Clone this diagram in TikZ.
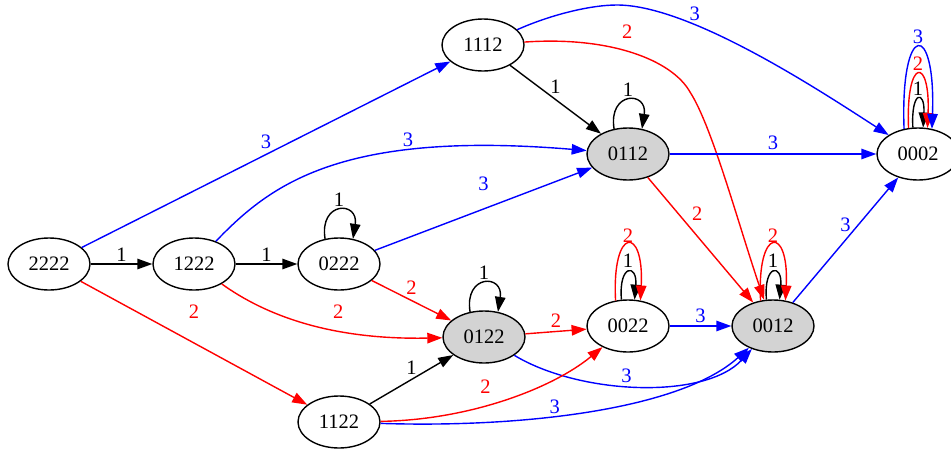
\documentclass[tikz,border=0pt]{standalone}
\usepackage{fontspec}
\setmainfont{Liberation Serif}
\usetikzlibrary{arrows.meta,shapes.geometric}
\definecolor{lightgrey}{RGB}{211,211,211}

\tikzset{
  state/.style={ellipse,draw=black,line width=1.4pt,minimum width=82pt,minimum height=52pt,inner sep=0pt},
  sink/.style={state,fill=lightgrey},
  lbl/.style={inner sep=1.5pt},
  tr1/.style={black,->},
  tr2/.style={red,->},
  tr3/.style={blue,->},
}

\begin{document}
\begin{tikzpicture}[x=1pt,y=-1pt,line width=1.4pt,
    >={Triangle[length=15pt,width=10.5pt]},
    font={\fontsize{20.5pt}{24pt}\selectfont}]
  \useasboundingbox (0,0) rectangle (951,448);

      \begin{scope}[every node/.style={state}]
        \foreach \s/\x/\y in {2222/49/264,1222/194/264,0222/339/264,1112/483/45,
                              1122/339/422,0022/628/326,0002/918/154}
          \node (n\s) at (\x,\y) {\s};
      \end{scope}
      \foreach \s/\x/\y in {0112/628/154,0122/484/337,0012/773/326}
        \node[sink] (n\s) at (\x,\y) {\s};

      % from 2222 and 1222
      \draw[tr1] (n2222) -- node[lbl,above] {1} (n1222);
      \draw[tr3] (n2222) -- node[lbl,above=3.5pt] {3} (n1112);
      \draw[tr2] (n2222) -- node[lbl,above=22pt] {2} (n1122);
      \draw[tr1] (n1222) -- node[lbl,above] {1} (n0222);
      \draw[tr3] (n1222) .. controls (270,185) and (340,130) .. (n0112) node[lbl,pos=.7,above=2pt] {3};
      \draw[tr2] (n1222) .. controls (265,315) and (330,340) .. (n0122) node[lbl,pos=.64,above=10pt] {2};

      % from 0222
      \draw[tr1] (n0222.119) .. controls +(-6,-38) and +(6,-38) .. (n0222.61) node[lbl,midway,above=2pt] {1};
      \draw[tr3] (n0222) -- node[lbl,above=16pt] {3} (n0112);
      \draw[tr2] (n0222) -- node[lbl,above=3.5pt] {2} (n0122);

      % from 1112
      \draw[tr1] (n1112) -- node[lbl,above=3.5pt] {1} (n0112);
      \draw[tr2] (n1112) .. controls (610,36) and (672,60) .. (690,92) node[lbl,pos=.47,above=10pt] {2}
                 .. controls (712,126) and (738,223) .. (n0012);
      \draw[tr3] (n1112) .. controls (550,15) and (590,5) .. (617,5)
                 .. controls (690,5) and (819,90) .. (n0002) node[lbl,pos=.3,above=2pt] {3};

      % from 0112
      \draw[tr1] (n0112.119) .. controls +(-6,-38) and +(6,-38) .. (n0112.61) node[lbl,midway,above=2pt] {1};
      \draw[tr3] (n0112) -- node[lbl,above=2.5pt] {3} (n0002);
      \draw[tr2] (n0112) -- node[lbl,pos=.38,above right=2pt] {2} (n0012);

      % from 0122
      \draw[tr1] (n0122.119) .. controls +(-6,-38) and +(6,-38) .. (n0122.61) node[lbl,midway,above=2pt] {1};
      \draw[tr2] (n0122) -- node[lbl,above=1.5pt] {2} (n0022);
      \draw[tr3] (n0122) .. controls (580,395) and (705,400) .. (n0012) node[lbl,pos=.45,above=0.5pt] {3};

      % from 1122
      \draw[tr1] (n1122) -- node[lbl,above=3pt] {1} (n0122);
      \draw[tr2] (n1122) .. controls (470,420) and (553,388) .. (n0022) node[lbl,pos=.41,above=10pt] {2};
      \draw[tr3] (n1122) .. controls (520,428) and (680,410) .. (n0012) node[lbl,pos=.41,above=0.5pt] {3};

      % from 0022 and 0012
      \draw[tr1] (n0022.104) .. controls +(-3,-36) and +(3,-36) .. (n0022.76) node[lbl,midway,above=2.5pt] {1};
      \draw[tr2] (n0022.116) .. controls +(-4,-75) and +(4,-75) .. (n0022.64) node[lbl,midway,above] {2};
      \draw[tr3] (n0022) -- node[lbl,above=1.5pt] {3} (n0012);
      \draw[tr1] (n0012.104) .. controls +(-3,-36) and +(3,-36) .. (n0012.76) node[lbl,midway,above=2.5pt] {1};
      \draw[tr2] (n0012.116) .. controls +(-4,-75) and +(4,-75) .. (n0012.64) node[lbl,midway,above] {2};
      \draw[tr3] (n0012) -- node[lbl,above=6pt] {3} (n0002);

      % 0002
      \draw[tr1] (n0002.101) .. controls +(-2,-37.6) and +(2,-37.6) .. (n0002.79) node[lbl,midway,above=1.5pt] {1};
      \draw[tr2] (n0002.110) .. controls +(-3,-71.5) and +(3,-71.5) .. (n0002.70) node[lbl,midway,above=1.5pt] {2};
      \draw[tr3] (n0002.119) .. controls +(-4,-108.6) and +(4,-108.6) .. (n0002.61) node[lbl,midway,above=1.5pt] {3};

    \end{tikzpicture}
\end{document}
